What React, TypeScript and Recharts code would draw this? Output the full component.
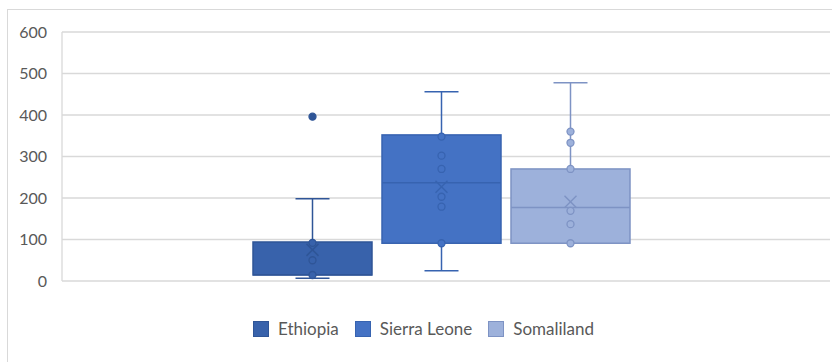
import React from 'react';
import { ComposedChart, Bar, XAxis, YAxis, CartesianGrid, Legend } from 'recharts';

const categories = ['Ethiopia', 'Sierra Leone', 'Somaliland'];
const seriesKeys = ['eth', 'sl', 'so'];
const whiskerLow = [6.5, 25, 91];
const q1s = [14.5, 91, 91];
const medians = [15, 237, 177];
const q3s = [94, 352, 270];
const whiskerHigh = [198, 456, 478];
const means = [75, 227, 191];
const innerPoints = [
  [14.5, 50, 92],
  [91, 179, 203, 270, 302, 348],
  [91, 137, 169, 270, 333, 360],
];
const outliers = [[396], [], []];
const yTicks = [0, 100, 200, 300, 400, 500, 600];

const fills = ['#3862ab', '#4472c4', '#9db1db'];
const strokes = ['#2f5597', '#3763b0', '#7e93c4'];

const FONT = 'Lato, "Open Sans", sans-serif';

const row: any = { name: '' };
seriesKeys.forEach((k, i) => {
  row[k] = [q1s[i], q3s[i]];
});
const data = [row];

const makeBoxShape = (i: number) => (props: any) => {
  const { x, y, width, height } = props;
  const lo = q1s[i];
  const hi = q3s[i];
  const k = height / (hi - lo);
  const py = (v: number) => y + height - (v - lo) * k;
  const cx = x + width / 2;
  const cap = 17;
  const fill = fills[i];
  const stroke = strokes[i];
  const sw = 1.5;
  const mx = means[i];
  const my = py(mx);
  return (
    <g>
      <line x1={cx} x2={cx} y1={py(hi)} y2={py(whiskerHigh[i])} stroke={stroke} strokeWidth={sw} />
      <line x1={cx - cap} x2={cx + cap} y1={py(whiskerHigh[i])} y2={py(whiskerHigh[i])} stroke={stroke} strokeWidth={sw} />
      <line x1={cx} x2={cx} y1={py(lo)} y2={py(whiskerLow[i])} stroke={stroke} strokeWidth={sw} />
      {whiskerLow[i] < lo && (
        <line x1={cx - cap} x2={cx + cap} y1={py(whiskerLow[i])} y2={py(whiskerLow[i])} stroke={stroke} strokeWidth={sw} />
      )}
      <rect x={x} y={y} width={width} height={height} fill={fill} stroke={stroke} strokeWidth={sw} />
      <line x1={x} x2={x + width} y1={py(medians[i])} y2={py(medians[i])} stroke={stroke} strokeWidth={sw} />
      {innerPoints[i].map((v, j) => (
        <circle key={'p' + j} cx={cx} cy={py(v)} r={3.5} fill={fill} stroke={stroke} strokeWidth={1.3} />
      ))}
      {outliers[i].map((v, j) => (
        <circle key={'o' + j} cx={cx} cy={py(v)} r={3.5} fill={stroke} stroke={stroke} strokeWidth={1.3} />
      ))}
      <line x1={cx - 6} x2={cx + 6} y1={my - 6} y2={my + 6} stroke={stroke} strokeWidth={sw} />
      <line x1={cx - 6} x2={cx + 6} y1={my + 6} y2={my - 6} stroke={stroke} strokeWidth={sw} />
    </g>
  );
};

const renderLegend = () => (
  <div
    style={{
      display: 'flex',
      alignItems: 'center',
      paddingLeft: 253,
      fontFamily: FONT,
      fontSize: 17,
      color: '#595959',
      height: 20,
      lineHeight: '20px',
    }}
  >
    {categories.map((c, i) => (
      <div key={c} style={{ display: 'flex', alignItems: 'center', marginRight: 16 }}>
        <span
          style={{
            display: 'inline-block',
            width: 16,
            height: 16,
            background: fills[i],
            border: `1px solid ${strokes[i]}`,
            boxSizing: 'border-box',
            marginRight: 9,
          }}
        />
        <span>{c}</span>
      </div>
    ))}
  </div>
);

export default function App() {
  return (
    <div style={{ position: 'absolute', left: 0, top: 0, width: 832, height: 362, overflow: 'hidden', background: '#fff' }}>
      <div
        style={{
          position: 'absolute',
          left: 7,
          top: 9,
          width: 900,
          height: 400,
          border: '1px solid #d9d9d9',
        }}
      />
      <div style={{ position: 'absolute', left: 0, top: 0 }}>
        <ComposedChart
          width={832}
          height={362}
          data={data}
          margin={{ top: 32, right: 2, left: 0, bottom: 61 }}
          barCategoryGap={191}
          barGap={10}
        >
          <CartesianGrid vertical={false} stroke="#d9d9d9" strokeWidth={1.3} />
          <XAxis dataKey="name" hide padding={{ left: 0, right: 9 }} />
          <YAxis
            width={62}
            domain={[0, 600]}
            ticks={yTicks}
            tickLine={false}
            axisLine={{ stroke: '#d9d9d9', strokeWidth: 1.3 }}
            tickMargin={9}
            tick={{ fill: '#595959', fontSize: 16, fontFamily: FONT }}
            interval={0}
          />
          <Legend verticalAlign="bottom" height={20} content={renderLegend} wrapperStyle={{ top: 319, left: 0, width: 832 }} />
          {seriesKeys.map((k, i) => (
            <Bar key={k} dataKey={k} name={categories[i]} fill={fills[i]} shape={makeBoxShape(i)} isAnimationActive={false} />
          ))}
        </ComposedChart>
      </div>
    </div>
  );
}
